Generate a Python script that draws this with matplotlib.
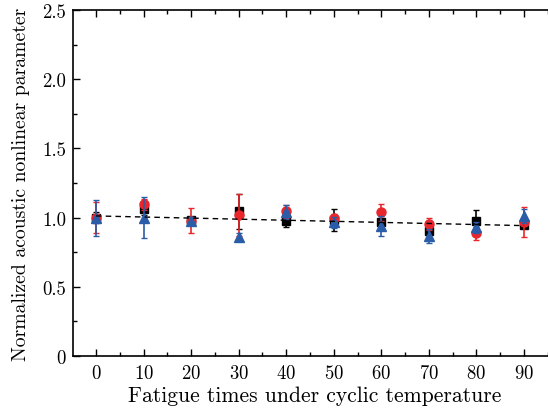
import numpy as np
import matplotlib
matplotlib.use("Agg")
import matplotlib.pyplot as plt
from matplotlib.ticker import MultipleLocator, FuncFormatter

plt.rcParams['font.family'] = ['cmr10', 'DejaVu Serif']
plt.rcParams['axes.formatter.use_mathtext'] = True
plt.rcParams['mathtext.fontset'] = 'cm'

cycles = [0, 10, 20, 30, 40, 50, 60, 70, 80, 90]

black_vals = [1.00, 1.06, 0.98, 1.045, 0.973, 0.98, 0.966, 0.905, 0.978, 0.947]
black_err = [0.04, 0.04, 0.02, 0.125, 0.04, 0.08, 0.03, 0.03, 0.075, 0.02]

red_vals = [1.00, 1.098, 0.978, 1.02, 1.045, 0.994, 1.038, 0.954, 0.886, 0.97]
red_err = [0.11, 0.04, 0.09, 0.15, 0.045, 0.03, 0.06, 0.045, 0.045, 0.11]

blue_vals = [1.00, 1.00, 0.975, 0.862, 1.04, 0.966, 0.94, 0.87, 0.93, 1.014]
blue_err = [0.13, 0.15, 0.03, 0.025, 0.05, 0.04, 0.07, 0.05, 0.04, 0.05]

trend_start = 1.012
trend_end = 0.942

W, H = 548, 410
left_px, right_px, top_px, bot_px = 73, 556, 11, 357
fig = plt.figure(figsize=(W/100, H/100), dpi=100)
ax = fig.add_axes([left_px/W, 1 - bot_px/H, (right_px - left_px)/W, (bot_px - top_px)/H])

ekw = dict(capsize=2.5, elinewidth=1.2, capthick=1.0, linestyle='none')
ax.errorbar(cycles, black_vals, yerr=black_err, fmt='s', color='black',
            ecolor='black', markersize=6, zorder=3, **ekw)
ax.errorbar(cycles, red_vals, yerr=red_err, fmt='o', color='#e8262b',
            ecolor='#e8262b', markersize=6.5, zorder=4, **ekw)
ax.errorbar(cycles, blue_vals, yerr=blue_err, fmt='^', color='#2b5ca8',
            ecolor='#2b5ca8', markersize=7, zorder=5, **ekw)

ax.plot([cycles[0], cycles[-1]], [trend_start, trend_end], color='black',
        linestyle=(0, (4, 3)), linewidth=1.0, zorder=6)

# x scale: 0 -> 96 px, 90 -> 524 px
px_per = (524 - 96) / 90
ax.set_xlim((left_px - 96) / px_per, (right_px - 96) / px_per)
ax.set_ylim(0, 2.5)
ax.xaxis.set_major_locator(MultipleLocator(10))
ax.xaxis.set_minor_locator(MultipleLocator(5))
ax.yaxis.set_major_locator(MultipleLocator(0.5))
ax.yaxis.set_minor_locator(MultipleLocator(0.25))
ax.yaxis.set_major_formatter(FuncFormatter(lambda v, p: '0' if abs(v) < 1e-9 else f'{v:.1f}'))
ax.tick_params(which='both', direction='in', top=True, right=True, labelsize=13.5)
ax.tick_params(which='major', length=5, width=1)
ax.tick_params(which='minor', length=3, width=1)
ax.tick_params(axis='x', pad=6)
ax.tick_params(axis='y', pad=5)
for s in ax.spines.values():
    s.set_linewidth(1.2)

ax.set_xlabel('Fatigue times under cyclic temperature', fontsize=15.5, labelpad=2)
ax.set_ylabel('Normalized acoustic nonlinear parameter', fontsize=14.2, labelpad=9)

fig.savefig('out.png', dpi=100)
